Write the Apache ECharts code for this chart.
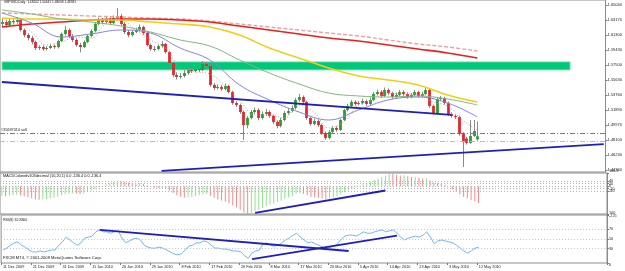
<!DOCTYPE html>
<html>
<head>
<meta charset="utf-8">
<title>GBPUSD,Daily</title>
<script src="https://cdn.jsdelivr.net/npm/echarts@6/dist/echarts.min.js"></script>
<style>
    html, body { margin: 0; padding: 0; background: #fff; }
    #chart { width: 625px; height: 271px; }
</style>
</head>
<body>
<div id="chart"></div>
<script>
// 129 daily bars (11 Dec 2009 .. 12 May 2010), the rest of the slots is empty room on the right
var slotCount = 163;
var dateLabels = ['11 Dec 2009', '21 Dec 2009', '31 Dec 2009', '11 Jan 2010', '20 Jan 2010', '29 Jan 2010',
    '8 Feb 2010', '17 Feb 2010', '26 Feb 2010', '8 Mar 2010', '17 Mar 2010', '26 Mar 2010', '5 Apr 2010',
    '14 Apr 2010', '23 Apr 2010', '3 May 2010', '12 May 2010'];

var opens = [1.6266,1.6291,1.6254,1.6304,1.6291,1.6316,1.6191,1.6128,1.6091,1.6041,
    1.5965,1.5978,1.5953,1.5965,1.5990,1.5978,1.6053,1.6141,1.6191,1.6116,
    1.6066,1.6003,1.5978,1.6041,1.6116,1.6178,1.6266,1.6316,1.6291,1.6329,
    1.6279,1.6341,1.6366,1.6266,1.6166,1.6128,1.6166,1.6191,1.6229,1.6153,
    1.6003,1.5953,1.5953,1.5990,1.6016,1.5915,1.5777,1.5627,1.5602,1.5614,
    1.5652,1.5690,1.5677,1.5702,1.5690,1.5765,1.5740,1.5502,1.5464,1.5477,
    1.5452,1.5489,1.5414,1.5276,1.5251,1.5163,1.5000,1.5088,1.5163,1.5188,
    1.5088,1.5138,1.5163,1.5113,1.5038,1.4988,1.5063,1.5151,1.5176,1.5213,
    1.5314,1.5351,1.5289,1.5088,1.5013,1.5050,1.5000,1.4900,1.4838,1.4913,
    1.4963,1.4938,1.5063,1.5188,1.5238,1.5289,1.5264,1.5276,1.5301,1.5264,
    1.5314,1.5389,1.5414,1.5364,1.5439,1.5401,1.5351,1.5376,1.5414,1.5389,
    1.5351,1.5376,1.5414,1.5364,1.5389,1.5439,1.5238,1.5151,1.5326,1.5339,
    1.5276,1.5138,1.5113,1.5101,1.4888,1.4830,1.4775,1.4863,1.4820];
var highs = [1.6340,1.6320,1.6335,1.6330,1.6350,1.6330,1.6210,1.6150,1.6120,1.6060,
    1.6000,1.6000,1.5990,1.6020,1.6010,1.6070,1.6160,1.6240,1.6210,1.6140,
    1.6090,1.6030,1.6060,1.6130,1.6200,1.6290,1.6345,1.6340,1.6360,1.6350,
    1.6375,1.6466,1.6390,1.6290,1.6190,1.6190,1.6220,1.6260,1.6245,1.6170,
    1.6020,1.5990,1.6010,1.6050,1.6030,1.5930,1.5790,1.5660,1.5650,1.5690,
    1.5720,1.5715,1.5730,1.5725,1.5800,1.5790,1.5760,1.5525,1.5510,1.5500,
    1.5520,1.5505,1.5430,1.5300,1.5270,1.5180,1.5110,1.5190,1.5220,1.5210,
    1.5170,1.5200,1.5185,1.5130,1.5060,1.5090,1.5175,1.5210,1.5245,1.5340,
    1.5390,1.5370,1.5305,1.5105,1.5080,1.5070,1.5015,1.4920,1.4935,1.4990,
    1.4985,1.5080,1.5205,1.5265,1.5315,1.5310,1.5300,1.5330,1.5320,1.5345,
    1.5415,1.5445,1.5435,1.5470,1.5460,1.5420,1.5405,1.5440,1.5435,1.5410,
    1.5400,1.5440,1.5430,1.5415,1.5470,1.5455,1.5255,1.5350,1.5365,1.5355,
    1.5295,1.5160,1.5135,1.5120,1.4910,1.4850,1.5063,1.5063,1.5044];
var lows = [1.6230,1.6215,1.6240,1.6260,1.6270,1.6170,1.6100,1.6060,1.6010,1.5940,
    1.5940,1.5930,1.5935,1.5950,1.5955,1.5960,1.6040,1.6120,1.6090,1.6040,
    1.5980,1.5910,1.5965,1.6025,1.6100,1.6160,1.6250,1.6260,1.6270,1.6255,
    1.6265,1.6320,1.6245,1.6140,1.6100,1.6110,1.6150,1.6170,1.6130,1.5985,
    1.5930,1.5920,1.5935,1.5970,1.5895,1.5760,1.5600,1.5570,1.5580,1.5595,
    1.5630,1.5650,1.5660,1.5665,1.5675,1.5715,1.5480,1.5440,1.5445,1.5430,
    1.5435,1.5395,1.5255,1.5225,1.5140,1.4812,1.4960,1.5070,1.5140,1.5060,
    1.5070,1.5115,1.5090,1.5010,1.4960,1.4970,1.5045,1.5130,1.5160,1.5195,
    1.5290,1.5265,1.5065,1.4990,1.4995,1.4975,1.4875,1.4812,1.4820,1.4895,
    1.4915,1.4925,1.5050,1.5170,1.5220,1.5240,1.5245,1.5255,1.5240,1.5250,
    1.5300,1.5370,1.5340,1.5350,1.5380,1.5330,1.5335,1.5360,1.5365,1.5330,
    1.5335,1.5360,1.5345,1.5345,1.5375,1.5215,1.5135,1.5140,1.5305,1.5255,
    1.5115,1.5090,1.5075,1.4865,1.4474,1.4755,1.4765,1.4850,1.4806];
var closes = [1.6291,1.6254,1.6304,1.6291,1.6316,1.6191,1.6128,1.6091,1.6041,1.5965,
    1.5978,1.5953,1.5965,1.5990,1.5978,1.6053,1.6141,1.6191,1.6116,1.6066,
    1.6003,1.5978,1.6041,1.6116,1.6178,1.6266,1.6316,1.6291,1.6329,1.6279,
    1.6341,1.6366,1.6266,1.6166,1.6128,1.6166,1.6191,1.6229,1.6153,1.6003,
    1.5953,1.5953,1.5990,1.6016,1.5915,1.5777,1.5627,1.5602,1.5614,1.5652,
    1.5690,1.5677,1.5702,1.5690,1.5765,1.5740,1.5502,1.5464,1.5477,1.5452,
    1.5489,1.5414,1.5276,1.5251,1.5163,1.5000,1.5088,1.5163,1.5188,1.5088,
    1.5138,1.5163,1.5113,1.5038,1.4988,1.5063,1.5151,1.5176,1.5213,1.5314,
    1.5351,1.5289,1.5088,1.5013,1.5050,1.5000,1.4900,1.4838,1.4913,1.4963,
    1.4938,1.5063,1.5188,1.5238,1.5289,1.5264,1.5276,1.5301,1.5264,1.5314,
    1.5389,1.5414,1.5364,1.5439,1.5401,1.5351,1.5376,1.5414,1.5389,1.5351,
    1.5376,1.5414,1.5364,1.5389,1.5439,1.5238,1.5151,1.5326,1.5339,1.5276,
    1.5138,1.5113,1.5101,1.4888,1.4788,1.4775,1.4863,1.4925,1.4858];

// moving averages, read every few bars: [bar, price]
var maRed = [[0,1.6229],[8,1.6266],[16,1.6291],[24,1.6316],[32,1.6329],[40,1.6329],[48,1.6316],[56,1.6291],
    [64,1.6241],[72,1.6191],[80,1.6141],[88,1.6091],[96,1.6053],[104,1.6003],[112,1.5953],[120,1.5903],[128,1.5840]];
var maRedDash = [[0,1.6404],[8,1.6392],[16,1.6379],[24,1.6366],[32,1.6354],[40,1.6341],[48,1.6329],[56,1.6304],
    [64,1.6266],[72,1.6229],[80,1.6191],[88,1.6153],[96,1.6116],[104,1.6066],[112,1.6016],[120,1.5978],[128,1.5928]];
var maYellow = [[0,1.6341],[8,1.6329],[16,1.6329],[24,1.6316],[32,1.6316],[40,1.6291],[48,1.6266],[56,1.6229],
    [64,1.6128],[72,1.5965],[80,1.5840],[88,1.5715],[96,1.5614],[104,1.5564],[112,1.5502],[120,1.5376],[128,1.5289]];
var maGreen = [[0,1.6442],[8,1.6392],[16,1.6329],[24,1.6291],[32,1.6241],[40,1.6166],[48,1.6066],[56,1.5990],
    [64,1.5815],[72,1.5652],[80,1.5514],[88,1.5401],[96,1.5364],[104,1.5351],[112,1.5364],[120,1.5326],[128,1.5251]];
var maBlue = [[0,1.6404],[8,1.6279],[16,1.6103],[24,1.6141],[32,1.6191],[40,1.6153],[48,1.5965],[56,1.5815],
    [64,1.5502],[72,1.5314],[80,1.5163],[88,1.5063],[96,1.5188],[104,1.5314],[112,1.5351],[120,1.5276],[128,1.5101]];
var maFast = [[0,1.6266],[4,1.6291],[8,1.6166],[12,1.6003],[16,1.6041],[20,1.6103],[24,1.6091],[28,1.6266],
    [32,1.6316],[36,1.6191],[40,1.6066],[44,1.5965],[48,1.5715],[52,1.5665],[56,1.5640],[60,1.5489],
    [64,1.5314],[68,1.5126],[72,1.5126],[76,1.5088],[80,1.5251],[84,1.5163],[88,1.4963],[92,1.5038],
    [96,1.5251],[100,1.5314],[104,1.5401],[108,1.5389],[112,1.5389],[116,1.5289],[120,1.5238],[124,1.5063],[128,1.4938]];

var macd = [-78,-82,-78,-74,-70,-74,-82,-90,-98,-106,
    -110,-108,-103,-98,-92,-85,-75,-63,-57,-55,
    -59,-63,-57,-47,-35,-22,-8,4,14,24,
    33,43,40,33,28,24,22,25,20,8,
    -4,-12,-14,-12,-20,-35,-55,-75,-86,-92,
    -90,-86,-80,-74,-66,-62,-78,-94,-105,-116,
    -126,-138,-154,-170,-190,-212,-225,-215,-204,-192,
    -176,-160,-148,-140,-128,-117,-102,-90,-78,-62,
    -55,-61,-74,-86,-90,-94,-100,-106,-98,-90,
    -82,-66,-50,-35,-20,-8,4,16,25,36,
    48,60,72,85,106.4,100,90,86,88,80,
    72,75,68,62,64,46,28,24,20,12,
    0,-25,-45,-65,-85,-100,-112,-122,-136.4];

var rsi = [27,31,37,42,44,37,33,27,23,23,
    25,23,25,27,27,37,44,54,48,42,
    37,42,52,54,56,65,69,65,65,62,
    65,67,52,42,46,50,52,48,37,33,
    31,31,33,31,27,23,19,17,19,27,
    35,37,42,42,46,44,37,31,31,29,
    29,27,25,25,23,15,10,21,25,27,
    40,42,37,35,37,42,48,52,58,62,
    54,48,42,44,40,37,33,29,33,35,
    40,50,56,58,58,56,60,65,62,62,
    65,67,69,65,67,69,62,54,48,52,
    54,56,54,58,65,54,40,46,48,46,
    44,42,37,31,25,21,25,31,32.83];

var priceTicks = [1.6504, 1.6317, 1.6130, 1.5943, 1.5750, 1.5563, 1.5376, 1.5189, 1.4997, 1.4810, 1.4623, 1.4436];
var priceTickLabels = ['1.65040', '1.63170', '1.61300', '1.59430', '1.57500', '1.55630', '1.53760', '1.51890',
    '1.49970', '1.48100', '1.46230', '1.44360'];
var macdTicks = [106.4, 40, 20, 0, -20, -40, -225];
var macdLevels = [40, 20, 0, -20, -40];
var rsiTicks = [100, 70, 50, 30, 0];
var rsiLevels = [70, 50, 30];

var lastPrice = 1.48581;
var orderPrice = 1.4870;
var stopPrice = 1.4790;
var zoneTop = 1.5793, zoneBottom = 1.5688;

var font = 'Liberation Sans';
var cats = [];
for (var i = 0; i < slotCount; i++) cats.push(i);

var candleData = opens.map(function (o, i) {
    return [i, o, closes[i], lows[i], highs[i]];
});

function nearestLabel(values, labels, v) {
    var best = 0;
    for (var k = 1; k < values.length; k++) {
        if (Math.abs(values[k] - v) < Math.abs(values[best] - v)) best = k;
    }
    return labels[best];
}

function xAxisFor(idx, showLabels) {
    return {
        type: 'category', gridIndex: idx, data: cats, boundaryGap: true,
        axisLine: { show: false },
        axisTick: {
            show: showLabels, length: 2, inside: false,
            interval: function (i) { return i % 8 === 0 && i <= 128; },
            lineStyle: { color: '#777' }
        },
        axisLabel: {
            show: showLabels, fontSize: 3.8, fontFamily: font, color: '#222', margin: 2, align: 'left',
            interval: function (i) { return i % 8 === 0 && i <= 128; },
            formatter: function (v, i) { return dateLabels[i / 8] || ''; }
        },
        splitLine: { show: false }
    };
}

function maSeries(data, color, width, type) {
    return {
        type: 'line', xAxisIndex: 0, yAxisIndex: 0, data: data, smooth: 0.4, symbol: 'none', z: 3,
        lineStyle: { color: color, width: width, type: type || 'solid' }, silent: true
    };
}

var dom = document.getElementById('chart');
var myChart = echarts.init(dom, null, { renderer: 'canvas' });

var option = {
    backgroundColor: '#ffffff',
    animation: false,
    title: [
        { text: 'GBPUSD,Daily  1.48202 1.50441 1.48058 1.48581', left: 4, top: 1, padding: 0,
          textStyle: { fontSize: 3.2, fontWeight: 'normal', color: '#111', fontFamily: font } },
        { text: 'MACDColoredv103decimal (10,20,1) 0.0 -136.4 0.0 -136.4', left: 3, top: 174, padding: 0,
          textStyle: { fontSize: 3.8, fontWeight: 'normal', color: '#111', fontFamily: font } },
        { text: 'RSI(8) 32.8300', left: 3, top: 218, padding: 0,
          textStyle: { fontSize: 3.6, fontWeight: 'normal', color: '#111', fontFamily: font } },
        { text: 'FXCM MT4, \u00a9 2001-2009 MetaQuotes Software Corp.', left: 3, top: 256, padding: 0,
          textStyle: { fontSize: 4.1, fontWeight: 'normal', color: '#111', fontFamily: font } }
    ],
    grid: [
        { left: 0, right: 18, top: 0, height: 172, show: true, borderColor: '#8c8c8c', borderWidth: 1, backgroundColor: '#fff' },
        { left: 0, right: 18, top: 173, height: 41, show: true, borderColor: '#8c8c8c', borderWidth: 1, backgroundColor: '#fff' },
        { left: 0, right: 18, top: 215, height: 48, show: true, borderColor: '#8c8c8c', borderWidth: 1, backgroundColor: '#fff' }
    ],
    xAxis: [xAxisFor(0, false), xAxisFor(1, false), xAxisFor(2, true)],
    yAxis: [
        {
            type: 'value', gridIndex: 0, position: 'right', min: 1.4411, max: 1.6567, scale: true,
            splitLine: { show: false },
            axisLine: { show: true, lineStyle: { color: '#8c8c8c' } },
            axisTick: { show: true, length: 2, customValues: priceTicks, lineStyle: { color: '#777' } },
            axisLabel: {
                customValues: priceTicks, fontSize: 4, fontFamily: font, color: '#222', margin: 2,
                formatter: function (v) { return nearestLabel(priceTicks, priceTickLabels, v); }
            }
        },
        {
            type: 'value', gridIndex: 1, position: 'right', min: -225, max: 106.4,
            splitLine: { show: false },
            axisLine: { show: true, lineStyle: { color: '#8c8c8c' } },
            axisTick: { show: true, length: 2, customValues: macdTicks, lineStyle: { color: '#777' } },
            axisLabel: {
                customValues: macdTicks, fontSize: 3.8, fontFamily: font, color: '#222', margin: 2,
                verticalAlignMaxLabel: 'top', verticalAlignMinLabel: 'bottom',
                formatter: function (v) { return String(v); }
            }
        },
        {
            type: 'value', gridIndex: 2, position: 'right', min: 0, max: 100,
            splitLine: { show: false },
            axisLine: { show: true, lineStyle: { color: '#8c8c8c' } },
            axisTick: { show: true, length: 2, customValues: rsiTicks, lineStyle: { color: '#777' } },
            axisLabel: {
                customValues: rsiTicks, fontSize: 3.8, fontFamily: font, color: '#222', margin: 2,
                verticalAlignMaxLabel: 'top', verticalAlignMinLabel: 'bottom'
            }
        }
    ],
    series: [
        // drawn objects under the bars: the supply zone
        {
            type: 'line', xAxisIndex: 0, yAxisIndex: 0, data: [], z: 1, silent: true,
            markArea: {
                silent: true,
                itemStyle: { color: '#00c878', borderColor: '#a6f0cc', borderWidth: 1 },
                data: [[{ xAxis: 0, yAxis: zoneTop }, { xAxis: 153, yAxis: zoneBottom }]]
            }
        },
        {
            type: 'custom', xAxisIndex: 0, yAxisIndex: 0, z: 2, silent: true,
            data: candleData,
            encode: { x: 0, y: [1, 2, 3, 4] },
            renderItem: function (params, api) {
                var i = api.value(0);
                var o = api.value(1), c = api.value(2), l = api.value(3), h = api.value(4);
                var pO = api.coord([i, o]), pC = api.coord([i, c]);
                var pL = api.coord([i, l]), pH = api.coord([i, h]);
                var w = Math.max(1, api.size([1, 0])[0] * 0.75);
                var x = Math.round(pO[0]) + 0.5;
                var top = Math.min(pO[1], pC[1]);
                var bh = Math.max(1, Math.abs(pO[1] - pC[1]));
                return {
                    type: 'group',
                    children: [
                        { type: 'line', shape: { x1: x, y1: pH[1], x2: x, y2: pL[1] },
                          style: { stroke: '#8a8a8a', lineWidth: 1 } },
                        { type: 'rect', shape: { x: x - w / 2, y: top, width: w, height: bh },
                          style: { fill: c >= o ? '#2a9a32' : '#e3242b' } }
                    ]
                };
            }
        },
        maSeries(maRedDash, '#e8a2a2', 1.4, [4, 2]),
        maSeries(maRed, '#e4201c', 1.6),
        maSeries(maYellow, '#f3cd16', 1.6),
        maSeries(maGreen, '#7fb87f', 1),
        maSeries(maBlue, '#8484e6', 1),
        maSeries(maFast, '#d49090', 1, [1, 2]),
        // trend lines, order lines and the price box
        {
            type: 'line', xAxisIndex: 0, yAxisIndex: 0, data: [], z: 4, silent: true,
            markLine: {
                silent: true, symbol: ['none', 'none'], animation: false,
                data: [
                    [{ coord: [0, 1.5539], lineStyle: { color: '#1f1fb8', width: 1.8, type: 'solid' }, label: { show: false } },
                     { coord: [121, 1.5126] }],
                    [{ coord: [43, 1.4424], lineStyle: { color: '#1f1fb8', width: 1.8, type: 'solid' }, label: { show: false } },
                     { coord: [162, 1.4760] }],
                    { yAxis: orderPrice, lineStyle: { color: '#3ea53e', width: 1, type: [5, 2, 1, 2] },
                      label: { show: true, position: 'insideStartTop', formatter: '#35687010 sell', fontSize: 3.8,
                               fontFamily: font, color: '#222', distance: 1 } },
                    { yAxis: stopPrice, lineStyle: { color: '#f3a88c', width: 1, type: [5, 2, 1, 2] },
                      label: { show: false } },
                    { yAxis: lastPrice, lineStyle: { opacity: 0 },
                      label: { show: true, position: 'end', formatter: '1.48581', fontSize: 4, fontFamily: font,
                               color: '#fff', backgroundColor: '#000', padding: [1, 1, 0, 1], distance: 1 } }
                ]
            }
        },
        {
            type: 'bar', xAxisIndex: 1, yAxisIndex: 1, data: macd, barWidth: 1, silent: true,
            itemStyle: {
                color: function (p) {
                    var prev = p.dataIndex > 0 ? macd[p.dataIndex - 1] : macd[0];
                    return macd[p.dataIndex] >= prev ? '#8fe28f' : '#f28a8a';
                }
            },
            markLine: {
                silent: true, symbol: ['none', 'none'],
                data: macdLevels.map(function (v) {
                    return { yAxis: v, lineStyle: { color: '#b4b4b4', width: 1, type: [1, 2] }, label: { show: false } };
                }).concat([[
                    { coord: [68, -215], lineStyle: { color: '#1f1fb8', width: 1.8, type: 'solid' }, label: { show: false } },
                    { coord: [103, -35] }
                ]])
            }
        },
        {
            type: 'line', xAxisIndex: 2, yAxisIndex: 2, data: rsi, symbol: 'none', silent: true,
            lineStyle: { color: '#74b6ee', width: 1 },
            markLine: {
                silent: true, symbol: ['none', 'none'],
                data: rsiLevels.map(function (v) {
                    return { yAxis: v, lineStyle: { color: '#b9c3dc', width: 1, type: [1, 2] }, label: { show: false } };
                }).concat([
                    [{ coord: [26, 69], lineStyle: { color: '#1f1fb8', width: 1.8, type: 'solid' }, label: { show: false } },
                     { coord: [93, 25] }],
                    [{ coord: [67, 8], lineStyle: { color: '#1f1fb8', width: 1.8, type: 'solid' }, label: { show: false } },
                     { coord: [106, 57] }]
                ])
            }
        }
    ]
};

if (option && typeof option === 'object') {
    myChart.setOption(option, false);
}
</script>
</body>
</html>
